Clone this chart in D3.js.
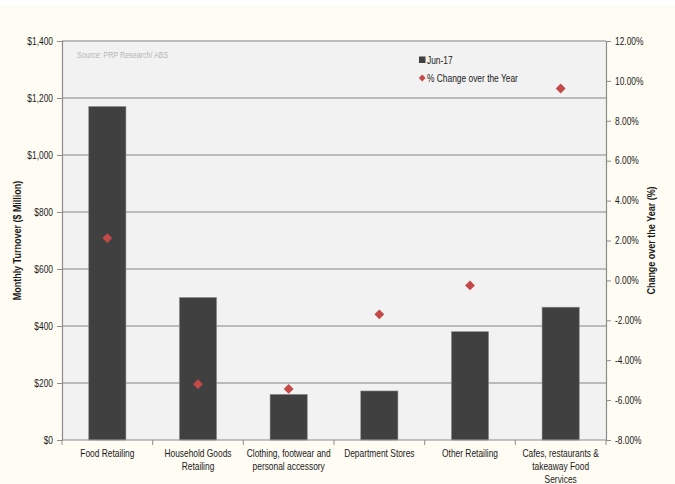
<!DOCTYPE html>
<html>
<head>
<meta charset="utf-8">
<script src="https://cdn.jsdelivr.net/npm/d3@7/dist/d3.min.js"></script>
<style>
  html, body { margin: 0; padding: 0; background: #fffcf3; }
  svg { display: block; }
  text { font-family: "Liberation Sans", Arial, sans-serif; fill: #1a1a1a; }
</style>
</head>
<body>
<svg id="chart" width="675" height="484"></svg>
<script>
// Retail turnover by industry, June 2017
const categories = [
  ["Food Retailing"],
  ["Household Goods", "Retailing"],
  ["Clothing, footwear and", "personal accessory"],
  ["Department Stores"],
  ["Other Retailing"],
  ["Cafes, restaurants &", "takeaway Food", "Services"]
];
const turnover = [1170, 500, 160, 172, 380, 466];          // $ million, Jun-17
const yearChange = [2.12, -5.2, -5.44, -1.7, -0.25, 9.62];  // % change over the year
const leftTicks = [0, 200, 400, 600, 800, 1000, 1200, 1400];
const rightTicks = [-8, -6, -4, -2, 0, 2, 4, 6, 8, 10, 12];
const seriesNames = ["Jun-17", "% Change over the Year"];

const W = 675, H = 484;
const plot = { left: 62, right: 606, top: 41, bottom: 440 };
const SX = 0.84; // narrow-face look: horizontal squeeze applied to labels

const svg = d3.select("#chart");

// places a squeezed text label whose anchor sits at (x, y)
function label(parent, x, y, str, opts = {}) {
  const t = parent.append("text")
    .attr("transform", `translate(${x},${y}) scale(${opts.sx || SX},1)`)
    .attr("font-size", opts.size || 10)
    .attr("text-anchor", opts.anchor || "start")
    .text(str);
  if (opts.weight) t.attr("font-weight", opts.weight);
  if (opts.fill) t.style("fill", opts.fill);
  return t;
}

// page background with a thin white band along the top
svg.append("rect").attr("width", W).attr("height", H).attr("fill", "#fffcf3");
svg.append("rect").attr("width", W).attr("height", 5).attr("fill", "#ffffff");

const keys = categories.map(c => c.join(" "));
const x = d3.scaleBand().domain(keys).range([plot.left, plot.right]).padding(0);
const yL = d3.scaleLinear().domain([0, 1400]).range([plot.bottom, plot.top]);
const yR = d3.scaleLinear().domain([-8, 12]).range([plot.bottom, plot.top]);

// plot area
svg.append("rect")
  .attr("x", plot.left).attr("y", plot.top)
  .attr("width", plot.right - plot.left).attr("height", plot.bottom - plot.top)
  .attr("fill", "#f2f2f2");

// horizontal gridlines
svg.append("g").selectAll("line")
  .data(leftTicks.filter(d => d > 0))
  .join("line")
  .attr("x1", plot.left).attr("x2", plot.right)
  .attr("y1", d => yL(d)).attr("y2", d => yL(d))
  .attr("stroke", "#a8a8a8").attr("stroke-width", 1.5);

// bars
const bw = x.bandwidth() * 0.41;
svg.append("g").selectAll("rect")
  .data(turnover)
  .join("rect")
  .attr("x", (d, i) => x(keys[i]) + (x.bandwidth() - bw) / 2)
  .attr("y", d => yL(d))
  .attr("width", bw)
  .attr("height", d => yL(0) - yL(d))
  .attr("fill", "#404040")
  .attr("stroke", "#8a8a8a").attr("stroke-width", 0.6);

// diamonds for the yearly change
const diamond = d3.symbol().type(d3.symbolDiamond2).size(62);
svg.append("g").selectAll("path")
  .data(yearChange)
  .join("path")
  .attr("d", diamond)
  .attr("transform", (d, i) => `translate(${x(keys[i]) + x.bandwidth() / 2},${yR(d)})`)
  .attr("fill", "#c44a4a");

// axes
const axisColor = "#8c8c8c";
function styleAxis(g) {
  g.select(".domain").attr("stroke", axisColor).attr("stroke-width", 1.2);
  g.selectAll(".tick line").attr("stroke", axisColor).attr("stroke-width", 1);
  g.selectAll(".tick text").attr("font-size", 10).attr("fill", "#1a1a1a")
    .style("font-family", '"Liberation Sans", Arial, sans-serif');
}

const gl = svg.append("g").attr("transform", `translate(${plot.left},0)`)
  .call(d3.axisLeft(yL).tickValues(leftTicks).tickSize(5).tickPadding(4)
    .tickFormat(d => "$" + d3.format(",")(d)));
styleAxis(gl);
gl.selectAll(".tick text").attr("x", null)
  .attr("transform", `translate(-9,0) scale(${SX},1)`);

const gr = svg.append("g").attr("transform", `translate(${plot.right},0)`)
  .call(d3.axisRight(yR).tickValues(rightTicks).tickSize(5).tickPadding(3)
    .tickFormat(d => d.toFixed(2) + "%"));
styleAxis(gr);
gr.selectAll(".tick text").attr("x", null)
  .attr("transform", `translate(9,0) scale(${SX},1)`);

const gb = svg.append("g").attr("transform", `translate(0,${plot.bottom})`)
  .call(d3.axisBottom(x).tickSize(0).tickFormat(""));
styleAxis(gb);
gb.select(".domain").attr("d", `M${plot.left},0H${plot.right}`);

// category boundary ticks
svg.append("g").selectAll("line")
  .data(d3.range(keys.length + 1))
  .join("line")
  .attr("x1", i => plot.left + i * x.bandwidth())
  .attr("x2", i => plot.left + i * x.bandwidth())
  .attr("y1", plot.bottom).attr("y2", plot.bottom + 5)
  .attr("stroke", axisColor);

// category labels
const catG = svg.append("g");
categories.forEach((lines, i) => {
  const cx = x(keys[i]) + x.bandwidth() / 2;
  lines.forEach((ln, j) => label(catG, cx, 457 + j * 13, ln, { anchor: "middle" }));
});

// axis titles
svg.append("text")
  .attr("transform", `translate(21,${(plot.top + plot.bottom) / 2}) rotate(-90) scale(0.9,1)`)
  .attr("text-anchor", "middle").attr("font-size", 10).attr("font-weight", "bold")
  .text("Monthly Turnover ($ Million)");

svg.append("text")
  .attr("transform", `translate(655,${(plot.top + plot.bottom) / 2}) rotate(-90) scale(0.9,1)`)
  .attr("text-anchor", "middle").attr("font-size", 10).attr("font-weight", "bold")
  .text("Change over the Year (%)");

// source note
label(svg, 77, 58, "Source: PRP Research/ ABS", { size: 8.5, fill: "#b4b4b4" });

// legend
const lg = svg.append("g").attr("transform", "translate(419,60)");
lg.append("rect").attr("x", 0).attr("y", -3.5).attr("width", 6.5).attr("height", 6.5).attr("fill", "#404040");
label(lg, 8, 3.5, seriesNames[0]);
lg.append("path").attr("d", d3.symbol().type(d3.symbolDiamond2).size(30))
  .attr("transform", "translate(3.2,18)").attr("fill", "#c44a4a");
label(lg, 8, 21.5, seriesNames[1]);
</script>
</body>
</html>
